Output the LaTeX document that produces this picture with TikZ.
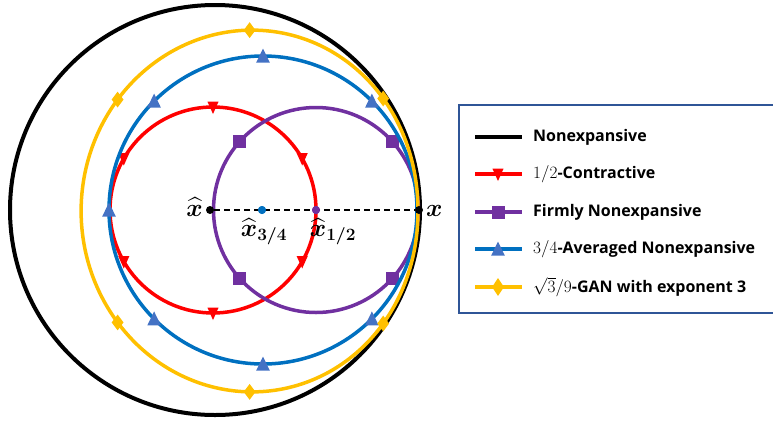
\documentclass[tikz,border=0pt]{standalone}
\usepackage{amsmath}
\usepackage[no-math]{fontspec}
\setmainfont{Open Sans}
\usetikzlibrary{shapes.geometric}
\definecolor{cred}{RGB}{255,0,0}
\definecolor{cpurple}{RGB}{112,48,160}
\definecolor{cblue}{RGB}{0,112,192}
\definecolor{cbluem}{RGB}{68,114,196}
\definecolor{cyellow}{RGB}{255,192,0}
\definecolor{cframe}{RGB}{47,85,151}
\begin{document}
\begin{tikzpicture}[x=1pt,y=-1pt,
  declare function={gs(\t)=(-1+sqrt(1-8*0.145*cos(\t)))/(0.29);},
  blackline/.style={draw=black,line width=4pt},
  redline/.style={draw=cred,line width=3.5pt},
  purpline/.style={draw=cpurple,line width=3.5pt},
  blueline/.style={draw=cblue,line width=3.5pt},
  yelline/.style={draw=cyellow,line width=3.5pt},
  redtri/.pic={\fill[cred] (-5.6,-5.5) -- (5.6,-5.5) -- (0,7) -- cycle;},
  bluetri/.pic={\fill[cbluem] (-6.8,6.5) -- (6.8,6.5) -- (0,-7.5) -- cycle;},
  purpsq/.style={rectangle,fill=cpurple,inner sep=0pt,minimum size=13pt},
  yeldia/.style={diamond,fill=cyellow,inner sep=0pt,minimum width=12pt,minimum height=16pt},
  dot/.style={circle,inner sep=0pt,minimum size=8pt},
  lbl/.style={font=\fontsize{25}{28}\selectfont,inner sep=0pt},
  legtext/.style={anchor=west,font=\fontsize{16}{19}\selectfont\bfseries,inner sep=0pt}
]
\useasboundingbox (0,0) rectangle (773,421);
% nonexpansive
\draw[blackline] (215,210) circle[radius=205];
% 1/2-contractive
\draw[redline] (213,210) circle[radius=103];
\foreach \a in {30,90,150,210,270,330}
  \pic at ({213+103*cos(\a)},{210-103*sin(\a)}) {redtri};
% firmly nonexpansive
\draw[purpline] (316,210) circle[radius=102.5];
\foreach \a [count=\i] in {42,138,222,318}
  \node[purpsq] (p\i) at ({316+102.5*cos(\a)},{210-102.5*sin(\a)}) {};
% 3/4-averaged
\draw[blueline] (263,210) circle[radius=154];
\foreach \a in {45,90,135,180,225,270,315}
  \pic at ({263+154*cos(\a)},{210-154*sin(\a)}) {bluetri};
% GAN
\draw[yelline] plot[domain=90:270,samples=181,variable=\t,smooth]
  ({418+208*gs(\t)*cos(\t)},{211-212*gs(\t)*sin(\t)});
\foreach \p [count=\i] in {107.5,133.5,160,200,226.5,252.5}
  \node[yeldia] (y\i) at ({418+208*gs(\p)*cos(\p)},{211-212*gs(\p)*sin(\p)}) {};
% points
\node[dot,fill=black] (xh) at (210,210) {};
\node[dot,fill=black] (xx) at (419,210) {};
\node[dot,fill=cblue] (x34) at (262,210) {};
\node[dot,fill=cpurple] (x12) at (316,210) {};
\draw[black,line width=2pt,dash pattern=on 6pt off 4pt] (xh) -- (xx);
\node[dot,fill=cblue] (x34b) at (x34) {};
\node[dot,fill=cpurple] (x12b) at (x12) {};
\node[lbl,anchor=east] (lxh) at (203,207) {$\boldsymbol{\widehat{x}}$};
\node[lbl,anchor=west] (lxx) at (426,211) {$\boldsymbol{x}$};
\node[lbl,anchor=north] (l34) at (264,218) {$\boldsymbol{\widehat{x}_{3/4}}$};
\node[lbl,anchor=north] (l12) at (333,218) {$\boldsymbol{\widehat{x}_{1/2}}$};
% legend
\draw[cframe,line width=1.5pt] (459,105) rectangle (778,313);
\draw[blackline] (475,137) coordinate (la0) -- (522,137) coordinate (lb0);
\node[legtext] (t1) at (533,137) {Nonexpansive};
\draw[redline] (475,174) coordinate (la1) -- (522,174) coordinate (lb1);
\pic at (498,174) {redtri};
\node[legtext] (t2) at (533,174) {{\fontsize{17}{19}\selectfont$1/2$}-Contractive};
\draw[purpline] (475,212) coordinate (la2) -- (522,212) coordinate (lb2);
\node[purpsq] (lm2) at (498,212) {};
\node[legtext] (t3) at (533,212) {Firmly Nonexpansive};
\draw[blueline] (475,249) coordinate (la3) -- (522,249) coordinate (lb3);
\pic at (498,249) {bluetri};
\node[legtext] (t4) at (533,249) {{\fontsize{17}{19}\selectfont$3/4$}-Averaged Nonexpansive};
\draw[yelline] (475,287) coordinate (la4) -- (522,287) coordinate (lb4);
\node[yeldia,minimum height=18pt] (lm4) at (498,287) {};
\node[legtext] (t5) at (533,287) {{\fontsize{17}{19}\selectfont$\sqrt{3}/9$}-GAN with exponent 3};
\end{tikzpicture}
\end{document}
